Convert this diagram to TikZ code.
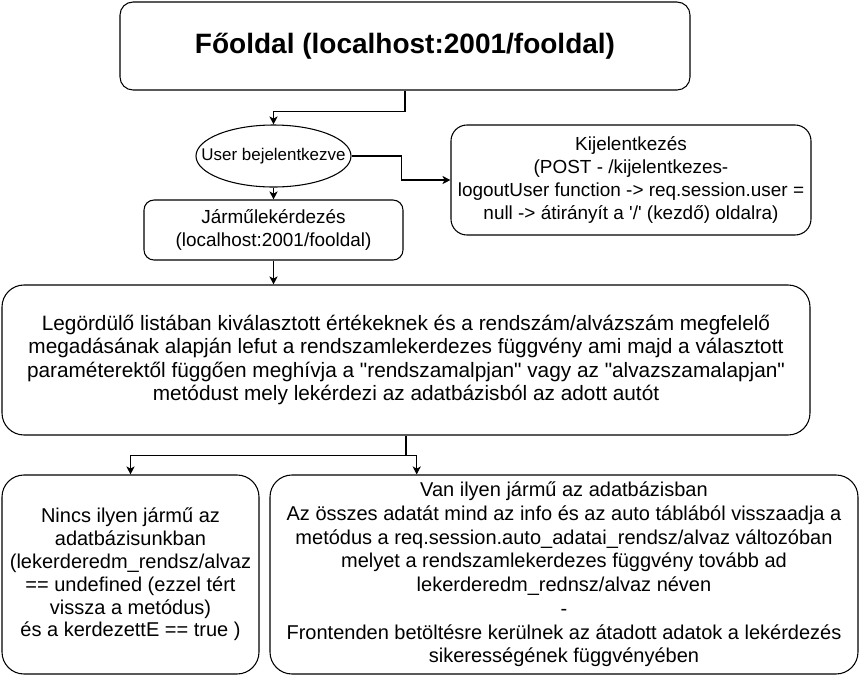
\documentclass[tikz,border=0pt]{standalone}
\usepackage{fontspec}
\setmainfont{Liberation Sans}[Ligatures=TeXOff]
\usetikzlibrary{arrows.meta,calc,shapes.geometric}
\newlength\dpx
\setlength\dpx{0.75pt}
\tikzset{
  box/.style={draw=black, line width=0.8pt, fill=white, rounded corners=#1, align=center, inner sep=0pt},
  box/.default=10\dpx,
  oval/.style={draw=black, line width=0.8pt, fill=white, ellipse, inner sep=0pt},
  arr/.style={draw=black, line width=0.8pt, -{Stealth[length=6pt,width=6pt,inset=1.6pt]}},
  plain/.style={draw=black, line width=0.8pt},
}
\begin{document}
\begin{tikzpicture}[x=0.75pt,y=-0.75pt]
\useasboundingbox[fill=white] (0,0) rectangle (861,676);
\node[box=13\dpx, minimum width=570\dpx, minimum height=88\dpx,
      font=\fontsize{21pt}{25pt}\selectfont\bfseries] (top) at (405,46)
  {Főoldal (localhost:2001/fooldal)};
\node[oval, minimum width=155\dpx, minimum height=62\dpx,
      label={[font=\fontsize{12.7pt}{15pt}\selectfont, inner sep=0pt]center:User bejelentkezve}] (ell) at (273.5,156) {};
\node[box=16\dpx, minimum width=360\dpx, minimum height=110\dpx,
      font=\fontsize{14.2pt}{17.1pt}\selectfont] (kij) at (631,180)
  {Kijelentkezés\\(POST - /kijelentkezes-\\logoutUser function -> req.session.user =\\null -> átirányít a '/' (kezdő) oldalra)};
\node[box=10\dpx, minimum width=259\dpx, minimum height=60\dpx,
      font=\fontsize{14.2pt}{17pt}\selectfont] (jar) at (273.5,230)
  {Járműlekérdezés\\(localhost:2001/fooldal)};
\node[box=22\dpx, minimum width=808\dpx, minimum height=150\dpx,
      font=\fontsize{15.6pt}{17.5pt}\selectfont] (big) at (406,360)
  {Legördülő listában kiválasztott értékeknek és a rendszám/alvázszám megfelelő\\
   megadásának alapján lefut a rendszamlekerdezes függvény ami majd a választott\\
   paraméterektől függően meghívja a "rendszamalpjan" vagy az "alvazszamalapjan"\\
   metódust mely lekérdezi az adatbázisból az adott autót};
\node[box=22\dpx, minimum width=257\dpx, minimum height=199\dpx,
      font=\fontsize{15pt}{17.1pt}\selectfont] (nincs) at (130.5,574.5)
  {Nincs ilyen jármű az\\adatbázisunkban\\(lekerderedm\_rendsz/alvaz\\== undefined (ezzel tért\\vissza a metódus)\\és a kerdezettE == true )};
\node[box=22\dpx, minimum width=588\dpx, minimum height=199\dpx,
      font=\fontsize{15pt}{17.8pt}\selectfont] (van) at (564,574.5)
  {Van ilyen jármű az adatbázisban\\Az összes adatát mind az info és az auto táblából visszaadja a\\metódus a req.session.auto\_adatai\_rendsz/alvaz változóban\\melyet a rendszamlekerdezes függvény tovább ad\\lekerderedm\_rednsz/alvaz néven\\-\\Frontenden betöltésre kerülnek az átadott adatok a lekérdezés\\sikerességének függvényében};
% connectors
\draw[arr] (top.south) -- ++(0,21) -| (ell.north);
\draw[arr] (ell.east) -- ++(50,0) |- (kij.west);
\draw[arr] (ell.south) -- (jar.north);
\draw[arr] (jar.south) -- (jar.south |- big.north);
\draw[plain] (big.south) -- ++(0,20) coordinate (split);
\draw[arr] (split) -| (nincs.north);
\coordinate (vin) at ($(van.north west)!0.25!(van.north east)$);
\draw[arr] (split) -| (vin);
\end{tikzpicture}
\end{document}
